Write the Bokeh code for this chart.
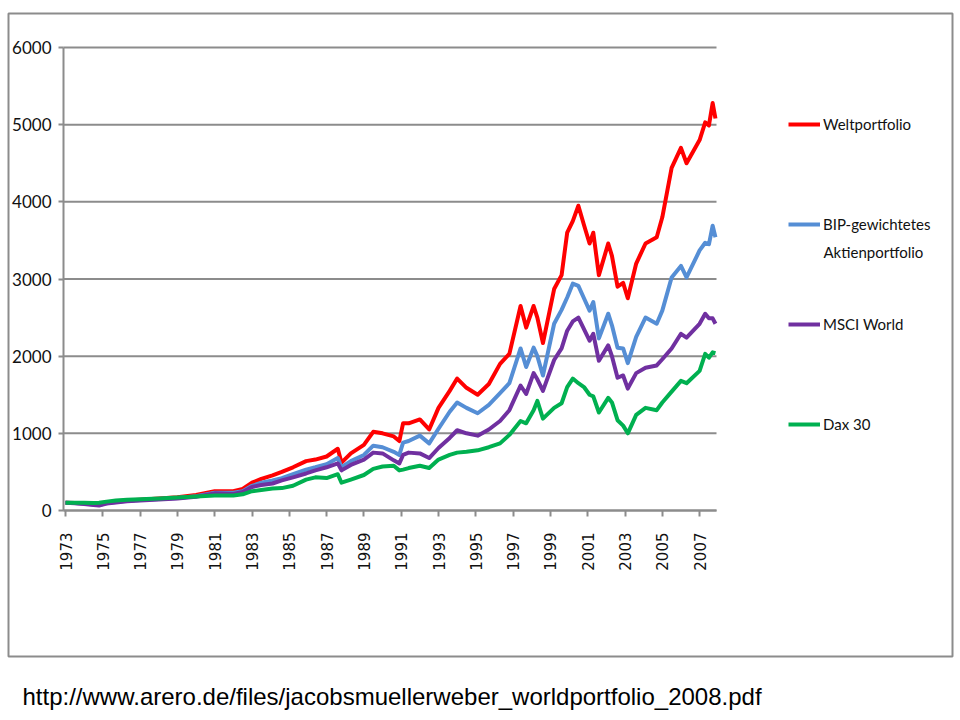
from bokeh.plotting import figure
from bokeh.models import (Range1d, FixedTicker, Legend, LegendItem, Label,
                          BoxAnnotation, CustomJSTickFormatter)
from bokeh.embed import file_html
from bokeh.resources import INLINE
import math

# ---------------- data ----------------
years = [1973.0, 1973.5, 1974.0, 1974.5, 1974.8, 1975.2, 1975.7, 1976.3, 1977.0, 1978.0,
         1979.0, 1980.0, 1981.0, 1982.0, 1982.5, 1983.0, 1983.5, 1984.1, 1984.6, 1985.2,
         1985.9, 1986.4, 1987.0, 1987.6, 1987.8, 1988.3, 1989.0, 1989.5, 1990.0, 1990.6,
         1990.9, 1991.1, 1991.4, 1992.0, 1992.5, 1993.0, 1993.6, 1994.0, 1994.5, 1995.1,
         1995.7, 1996.3, 1996.8, 1997.4, 1997.7, 1998.1, 1998.3, 1998.6, 1999.2, 1999.6,
         1999.9, 2000.2, 2000.5, 2000.8, 2001.1, 2001.3, 2001.6, 2002.1, 2002.3, 2002.6,
         2002.9, 2003.15, 2003.6, 2004.1, 2004.7, 2005.0, 2005.5, 2006.0, 2006.3, 2007.0,
         2007.3, 2007.5, 2007.7, 2007.85]

weltportfolio = [100, 98, 95, 88, 85, 100, 115, 130, 140, 155,
                 172, 200, 250, 250, 280, 360, 410, 455, 500, 560,
                 640, 660, 700, 800, 620, 740, 850, 1020, 1000, 960,
                 900, 1130, 1130, 1180, 1050, 1330, 1550, 1710, 1590, 1500,
                 1640, 1900, 2030, 2650, 2370, 2650, 2500, 2170, 2870, 3050,
                 3600, 3750, 3950, 3700, 3460, 3600, 3050, 3460, 3300, 2900,
                 2950, 2750, 3200, 3460, 3540, 3800, 4440, 4700, 4500, 4800,
                 5030, 4990, 5280, 5080]

bip_aktien = [100, 97, 90, 78, 72, 95, 110, 125, 135, 148,
              162, 185, 230, 230, 250, 320, 360, 390, 420, 470,
              530, 560, 600, 680, 560, 640, 720, 840, 820, 760,
              720, 880, 900, 970, 870, 1060, 1280, 1400, 1330, 1260,
              1370, 1520, 1650, 2100, 1860, 2110, 2000, 1750, 2420, 2600,
              2760, 2940, 2910, 2750, 2590, 2700, 2230, 2550, 2400, 2110,
              2100, 1910, 2250, 2500, 2420, 2590, 3020, 3170, 3020, 3370,
              3470, 3450, 3690, 3540]

msci_world = [100, 95, 85, 70, 65, 90, 105, 120, 130, 142,
              155, 178, 222, 215, 240, 305, 330, 350, 390, 430,
              480, 520, 560, 610, 520, 590, 660, 750, 740, 650,
              610, 720, 750, 740, 680, 810, 940, 1040, 1000, 970,
              1050, 1160, 1300, 1620, 1510, 1780, 1700, 1550, 1950, 2100,
              2330, 2450, 2500, 2350, 2200, 2290, 1940, 2140, 2000, 1720,
              1750, 1580, 1780, 1850, 1880, 1960, 2100, 2290, 2240, 2420,
              2550, 2490, 2490, 2420]

dax30 = [100, 100, 102, 98, 100, 115, 130, 140, 145, 155,
         170, 180, 194, 195, 210, 250, 265, 285, 290, 320,
         400, 430, 420, 470, 360, 400, 460, 540, 570, 580,
         520, 530, 550, 580, 550, 660, 720, 750, 760, 780,
         820, 870, 980, 1160, 1130, 1300, 1420, 1190, 1330, 1390,
         1600, 1710, 1650, 1600, 1500, 1480, 1270, 1460, 1400, 1170,
         1100, 1000, 1240, 1330, 1300, 1400, 1540, 1680, 1650, 1810,
         2030, 1980, 2050, 2040]

series_names = ["Weltportfolio", "BIP-gewichtetes", "MSCI World", "Dax 30"]
second_line_label = "Aktienportfolio"
series_colors = ["#FF0000", "#558ED5", "#7030A0", "#00B050"]
x_tick_years = list(range(1973, 2008, 2))
y_ticks = [0, 1000, 2000, 3000, 4000, 5000, 6000]
url_text = "http://www.arero.de/files/jacobsmuellerweber_worldportfolio_2008.pdf"

# ---------------- layout geometry (pixels on the page) ----------------
W, H = 958, 718
PX_1973, PX_PER_YEAR = 65.0, 18.65
PY_ZERO, PY_6000 = 510.0, 47.0


def X(px):
    return 1973 + (px - PX_1973) / PX_PER_YEAR


def Y(py):
    return (PY_ZERO - py) * 6000.0 / (PY_ZERO - PY_6000)


x_axis_start, x_axis_end = X(63), X(716)

p = figure(width=W, height=H, output_backend="svg", toolbar_location=None,
           x_range=Range1d(X(0), X(W)), y_range=Range1d(Y(H), Y(0)),
           min_border=0, min_border_left=0, min_border_right=0,
           min_border_top=0, min_border_bottom=0)
p.outline_line_color = None
p.background_fill_color = "white"
p.border_fill_color = "white"
p.xgrid.visible = False
p.ygrid.visible = False

grid_col = "#8C8C8C"
text_col = "#111111"

# horizontal gridlines at the y ticks
p.segment(x0=[x_axis_start] * len(y_ticks), x1=[x_axis_end] * len(y_ticks),
          y0=y_ticks, y1=y_ticks, line_color=grid_col, line_width=2)

ya = p.yaxis[0]
ya.fixed_location = x_axis_start
ya.bounds = (0, 6000)
ya.ticker = FixedTicker(ticks=y_ticks)
ya.axis_line_color = grid_col
ya.axis_line_width = 2
ya.major_tick_line_color = grid_col
ya.major_tick_line_width = 2
ya.major_tick_out = 5
ya.major_tick_in = 0
ya.minor_tick_line_color = None
ya.major_label_text_font = "Lato"
ya.major_label_text_font_size = "17px"
ya.major_label_text_color = text_col
ya.major_label_standoff = 7

xa = p.xaxis[0]
xa.fixed_location = 0
xa.bounds = (x_axis_start, x_axis_end)
xa.ticker = FixedTicker(ticks=x_tick_years)
xa.formatter = CustomJSTickFormatter(code="return tick.toFixed(0);")
xa.axis_line_color = grid_col
xa.axis_line_width = 2
xa.major_tick_line_color = grid_col
xa.major_tick_line_width = 2
xa.major_tick_out = 6
xa.major_tick_in = 0
xa.minor_tick_line_color = None
xa.major_label_orientation = math.pi / 2
xa.major_label_text_font = "DejaVu Sans"
xa.major_label_text_font_size = "15px"
xa.major_label_text_color = text_col
xa.major_label_standoff = 16

all_series = [weltportfolio, bip_aktien, msci_world, dax30]
renderers = []
for vals, col in zip(all_series, series_colors):
    r = p.line(years, vals, line_color=col, line_width=4, line_join="round")
    renderers.append(r)

legend = Legend(items=[LegendItem(label=n, renderers=[r]) for n, r in zip(series_names, renderers)],
                location=(788, H - 434))
legend.border_line_color = None
legend.background_fill_alpha = 0
legend.padding = 0
legend.margin = 0
legend.glyph_width = 32
legend.glyph_height = 20
legend.label_height = 20
legend.label_standoff = 3
legend.spacing = 80
legend.label_text_font = "Lato"
legend.label_text_font_size = "15px"
legend.label_text_color = text_col
p.add_layout(legend, "center")

p.add_layout(Label(x=X(823), y=Y(251), text=second_line_label, text_font="Lato",
                   text_font_size="15px", text_color=text_col, text_baseline="middle"))

p.add_layout(BoxAnnotation(left=X(8), right=X(952), top=Y(13), bottom=Y(656),
                           fill_alpha=0, line_color=grid_col, line_alpha=1.0,
                           line_width=2))

p.add_layout(Label(x=X(22), y=Y(696), text=url_text,
                   text_font="Liberation Sans", text_font_size="24px",
                   text_color="#000000", text_baseline="alphabetic"))

open("out.html", "w").write(file_html(p, INLINE))
